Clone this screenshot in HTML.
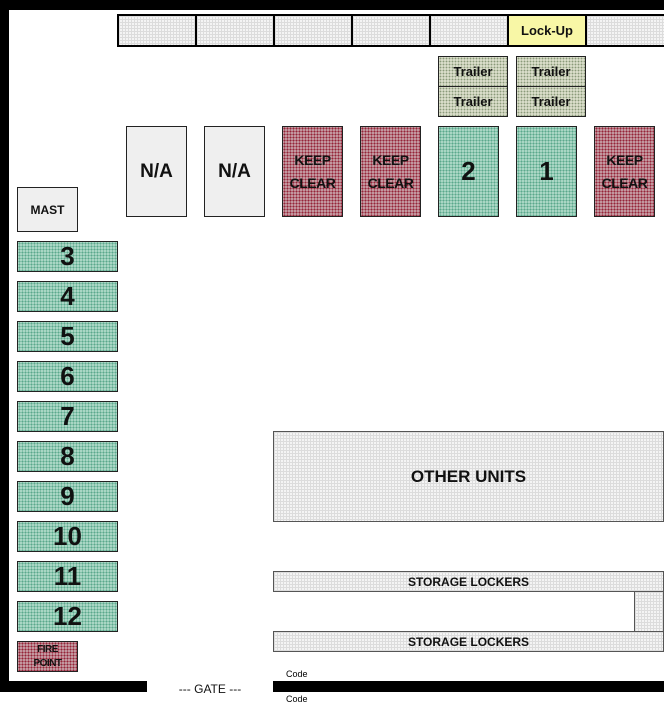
<!DOCTYPE html>
<html><head><style>
body{margin:0;width:664px;height:708px;background:#fff;position:relative;overflow:hidden;font-family:"Liberation Sans",sans-serif}
.a{position:absolute;box-sizing:border-box;display:flex;align-items:center;justify-content:center;text-align:center;font-weight:bold;color:#111}
.blk{position:absolute;background:#000}
.g{background-color:#f4f4f4;background-image:linear-gradient(#dcdcdc 1px,transparent 1px),linear-gradient(90deg,#dcdcdc 1px,transparent 1px);background-size:3px 3px;border:1px solid #555}
.gr{background:#a9d6c4;background-image:radial-gradient(#5aa88c 0.8px,transparent 1px);background-size:3px 3px;border:1px solid #222}
.rd{background:#c3979f;background-image:radial-gradient(#952438 0.8px,transparent 1px);background-size:3px 3px;border:1px solid #222;line-height:23px;font-size:14px;letter-spacing:-0.5px}
.tr{background:#d8dcc8;background-image:radial-gradient(#8a9a7a 0.7px,transparent 1px);background-size:3px 3px;border:1px solid #222;font-size:13px}
.na{background:#efefef;border:1px solid #222;font-size:19px}
.num{font-size:26px}
.top{border:2px solid #000;border-right:none}
</style></head><body>
<div class="blk" style="left:0;top:0;width:664px;height:10px"></div>
<div class="blk" style="left:0;top:0;width:9px;height:692px"></div>
<div class="blk" style="left:0;top:681px;width:147px;height:11px"></div>
<div class="blk" style="left:273px;top:681px;width:391px;height:11px"></div>

<div class="a g top" style="left:117px;top:14px;width:78px;height:33px"></div>
<div class="a g top" style="left:195px;top:14px;width:78px;height:33px"></div>
<div class="a g top" style="left:273px;top:14px;width:78px;height:33px"></div>
<div class="a g top" style="left:351px;top:14px;width:78px;height:33px"></div>
<div class="a g top" style="left:429px;top:14px;width:78px;height:33px"></div>
<div class="a top" style="left:507px;top:14px;width:78px;height:33px;background:#f8f7a6;font-size:13px">Lock-Up</div>
<div class="a g top" style="left:585px;top:14px;width:79px;height:33px"></div>

<div class="a tr" style="left:438px;top:56px;width:70px;height:31px">Trailer</div>
<div class="a tr" style="left:438px;top:86px;width:70px;height:31px">Trailer</div>
<div class="a tr" style="left:516px;top:56px;width:70px;height:31px">Trailer</div>
<div class="a tr" style="left:516px;top:86px;width:70px;height:31px">Trailer</div>

<div class="a na" style="left:126px;top:126px;width:61px;height:91px">N/A</div>
<div class="a na" style="left:204px;top:126px;width:61px;height:91px">N/A</div>
<div class="a rd" style="left:282px;top:126px;width:61px;height:91px">KEEP<br>CLEAR</div>
<div class="a rd" style="left:360px;top:126px;width:61px;height:91px">KEEP<br>CLEAR</div>
<div class="a gr num" style="left:438px;top:126px;width:61px;height:91px">2</div>
<div class="a gr num" style="left:516px;top:126px;width:61px;height:91px">1</div>
<div class="a rd" style="left:594px;top:126px;width:61px;height:91px">KEEP<br>CLEAR</div>

<div class="a na" style="left:17px;top:187px;width:61px;height:45px;font-size:12px">MAST</div>

<div class="a gr num" style="left:17px;top:241px;width:101px;height:31px">3</div>
<div class="a gr num" style="left:17px;top:281px;width:101px;height:31px">4</div>
<div class="a gr num" style="left:17px;top:321px;width:101px;height:31px">5</div>
<div class="a gr num" style="left:17px;top:361px;width:101px;height:31px">6</div>
<div class="a gr num" style="left:17px;top:401px;width:101px;height:31px">7</div>
<div class="a gr num" style="left:17px;top:441px;width:101px;height:31px">8</div>
<div class="a gr num" style="left:17px;top:481px;width:101px;height:31px">9</div>
<div class="a gr num" style="left:17px;top:521px;width:101px;height:31px">10</div>
<div class="a gr num" style="left:17px;top:561px;width:101px;height:31px">11</div>
<div class="a gr num" style="left:17px;top:601px;width:101px;height:31px">12</div>
<div class="a rd" style="left:17px;top:641px;width:61px;height:31px;font-size:10px;line-height:14px">FIRE<br>POINT</div>

<div class="a g" style="left:273px;top:431px;width:391px;height:91px;font-size:17px">OTHER UNITS</div>
<div class="a g" style="left:273px;top:571px;width:391px;height:21px;font-size:12px">STORAGE LOCKERS</div>
<div class="a g" style="left:634px;top:591px;width:30px;height:41px"></div>
<div class="a g" style="left:273px;top:631px;width:391px;height:21px;font-size:12px">STORAGE LOCKERS</div>

<div class="a" style="left:150px;top:681px;width:120px;height:16px;font-size:12px;font-weight:normal">--- GATE ---</div>
<div style="position:absolute;left:286px;top:669px;font-size:9px">Code</div>
<div style="position:absolute;left:286px;top:694px;font-size:9px">Code</div>
</body></html>
